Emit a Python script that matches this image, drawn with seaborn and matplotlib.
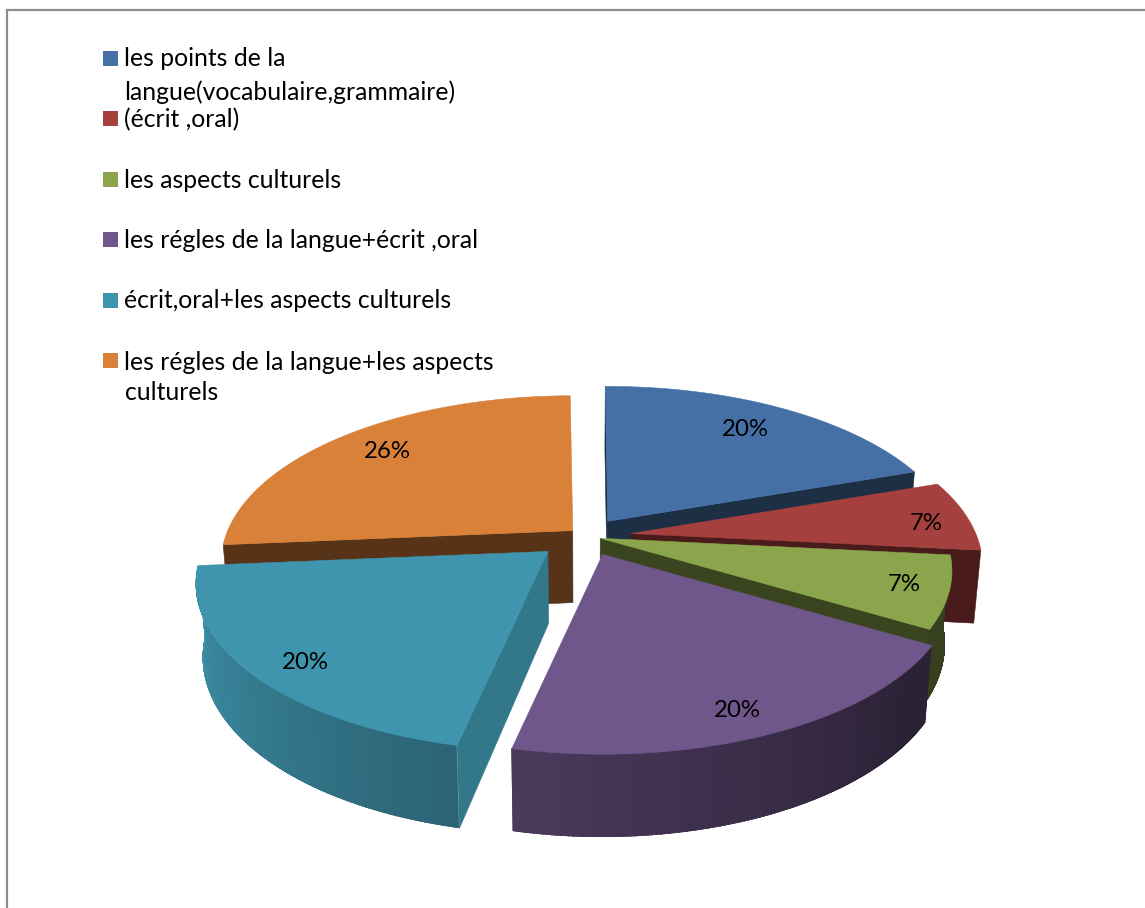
import numpy as np
import pandas as pd
import seaborn as sns
import matplotlib
matplotlib.use("Agg")
import matplotlib.pyplot as plt
from matplotlib.collections import PolyCollection
from matplotlib.patches import Rectangle, Polygon

# Share of answers per category, in percent
categories = [
    "les points de la langue(vocabulaire,grammaire)",
    "(écrit ,oral)",
    "les aspects culturels",
    "les régles de la langue+écrit ,oral",
    "écrit,oral+les aspects culturels",
    "les régles de la langue+les aspects culturels",
]
values = [20, 7, 7, 20, 20, 26]
value_labels = ["20%", "7%", "7%", "20%", "20%", "26%"]
colors = ["#4570a5", "#a5403e", "#8aa54c", "#70578b", "#4095ae", "#d98039"]

# Explosion of each slice; radial position and angular nudge of its percentage label
explode = [0.112, 0.132, 0.045, 0.125, 0.145, 0.05]
label_radius = [0.78, 0.87, 0.88, 0.88, 0.87, 0.80]
label_turn = [0.0, 2.5, 0.0, 1.5, -3.5, 0.0]
# Brightness of the flat cut faces of each slice
cut_shade = [0.42, 0.44, 0.42, 0.42, 0.80, 0.40]

# Legend text, one row per printed line: (text, baseline in px)
legend_lines = [
    ("les points de la", 66), ("langue(vocabulaire,grammaire)", 99),
    ("(écrit ,oral)", 127), ("les aspects culturels", 187),
    ("les régles de la langue+écrit ,oral", 248),
    ("écrit,oral+les aspects culturels", 308),
    ("les régles de la langue+les aspects", 369), ("culturels", 400),
]
legend_swatch_top = [51, 111, 172, 232, 293, 353]

# Perspective camera parameters, in pixels
CX, CY = 585.0, 535.5
RX, RY = 345.0, 161.0
K = 0.194
HEIGHT = 72.0

sns.set_theme(style="white")
plt.rcParams["font.family"] = ["Lato", "DejaVu Sans"]
palette = sns.color_palette(colors)


def view_angle(deg):
    # Small twist of the pie under the oblique view, stronger towards the front
    return deg - 0.5 - 1.6 * np.sin(np.radians(deg) / 2) ** 2


df = pd.DataFrame({"category": categories, "value": values, "label": value_labels,
                   "explode": explode, "label_r": label_radius, "label_turn": label_turn,
                   "cut": cut_shade})
df["start"] = view_angle(df["value"].cumsum().shift(fill_value=0) / df["value"].sum() * 360)
df["end"] = view_angle(df["value"].cumsum() / df["value"].sum() * 360)
df["mid"] = (df["start"] + df["end"]) / 2


def apex_of(row):
    m = np.radians(row["mid"])
    return CX + RX * row["explode"] * np.sin(m), CY - RY * row["explode"] * np.cos(m)


def project(apex, x, y):
    # Point of a slice's top face, given in unit-circle coordinates around its apex
    w = 1 + K * y
    return apex[0] + RX * x / w, apex[1] - RY * y / w


def drop(apex, x, y):
    # Screen position of the lower rim under a point of the top face
    sx, sy = project(apex, x, y)
    return CX + (sx - CX) * 0.982, sy + HEIGHT / (1 + 0.7 * K * y)


def wall_shade(deg):
    d = deg % 360
    return float(np.clip(0.39 + (d - 130) * 0.0044, 0.39, 1.0))


def tint(color, factor):
    return tuple(min(1.0, c * factor) for c in color)


fig = plt.figure(figsize=(11.45, 9.08), dpi=100, facecolor="white")
ax = fig.add_axes([0, 0, 1, 1])
ax.set_xlim(0, 1145)
ax.set_ylim(908, 0)
ax.axis("off")

# Chart area frame, open at the right and bottom edges
ax.plot([7, 7, 1145], [908, 10, 10], color="#8c8c8c", lw=1.6, solid_joinstyle="miter", zorder=1)

# Paint the slices from the back of the pie to the front
depth = np.cos(np.radians(df["mid"])) * (1 + df["explode"])
z = 2
for i in depth.sort_values(ascending=False).index:
    row = df.loc[i]
    col = palette[i]
    apex = apex_of(row)
    theta = np.radians(np.linspace(row["start"], row["end"], 120))
    px, py = np.sin(theta), np.cos(theta)

    # Flat cut faces: only those turned towards the viewer are drawn
    t0, t1 = theta[0], theta[-1]
    visible_cuts = []
    if np.sin(t0) < 0:
        visible_cuts.append(t0)
    if np.sin(t1) > 0:
        visible_cuts.append(t1)
    fc = tint(col, row["cut"])
    for t in visible_cuts:
        ex, ey = np.sin(t), np.cos(t)
        face = [project(apex, 0, 0), project(apex, ex, ey), drop(apex, ex, ey), drop(apex, 0, 0)]
        ax.add_collection(PolyCollection([face], facecolors=[fc], edgecolors=[fc], linewidths=0.4, zorder=z))
    z += 1

    # Outer rim, shaded strip by strip; slivers of a few degrees stay hidden
    front = np.where(py < -0.04)[0]
    if len(front) > 1 and np.degrees(theta[front[-1]] - theta[front[0]]) > 5:
        quads, shades = [], []
        for a, b in zip(front[:-1], front[1:]):
            quads.append([project(apex, px[a], py[a]), project(apex, px[b], py[b]),
                          drop(apex, px[b], py[b]), drop(apex, px[a], py[a])])
            shades.append(tint(col, wall_shade(np.degrees((theta[a] + theta[b]) / 2))))
        outline = [project(apex, px[j], py[j]) for j in front] + \
                  [drop(apex, px[j], py[j]) for j in front[::-1]]
        clip = Polygon(outline, closed=True, transform=ax.transData)
        rim = PolyCollection(quads, facecolors=shades, edgecolors=shades, linewidths=1.0,
                             antialiaseds=False, zorder=z)
        ax.add_collection(rim)
        rim.set_clip_path(clip)
    z += 1

    # Top face
    top = [project(apex, 0, 0)] + [project(apex, a, b) for a, b in zip(px, py)]
    ax.add_collection(PolyCollection([top], facecolors=[col], edgecolors=[col], linewidths=0.4, zorder=z))
    z += 1

# Percentage labels sit on the top faces
for i, row in df.iterrows():
    m = np.radians(row["mid"] + row["label_turn"])
    sx, sy = project(apex_of(row), row["label_r"] * np.sin(m), row["label_r"] * np.cos(m))
    ax.text(sx, sy, row["label"], ha="center", va="center", fontsize=17.3, color="black", zorder=100)

# Legend
for top, col in zip(legend_swatch_top, palette):
    ax.add_patch(Rectangle((103, top), 15, 15, facecolor=col, edgecolor="none", zorder=100))
for text, base in legend_lines:
    ax.text(124.5, base + 0.5, text, ha="left", va="baseline", fontsize=17.8, color="black", zorder=100)

fig.savefig("out.png", dpi=100, facecolor="white")
